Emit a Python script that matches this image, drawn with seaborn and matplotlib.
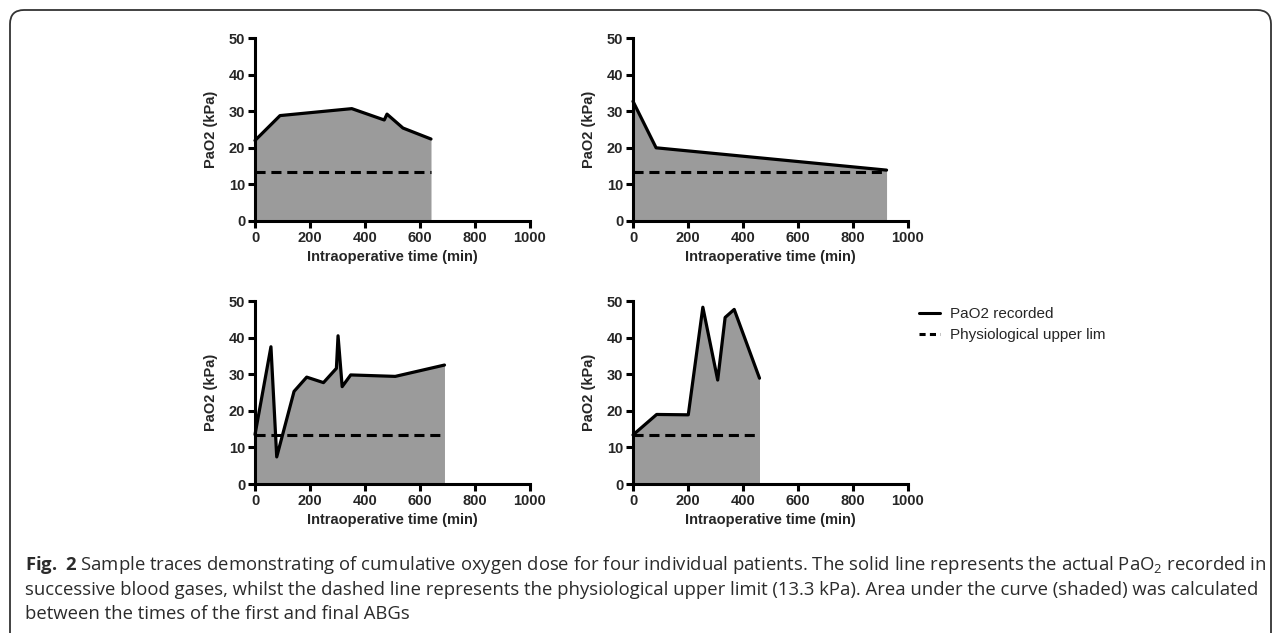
import matplotlib
matplotlib.use("Agg")
import matplotlib.pyplot as plt
from matplotlib.patches import FancyBboxPatch
from matplotlib.lines import Line2D
import seaborn as sns

# Values (time in min, PaO2 in kPa)
time_p1 = [0, 91, 352, 470, 480, 538, 640]
pao2_p1 = [22.0, 28.8, 30.7, 27.6, 29.2, 25.4, 22.4]

time_p2 = [0, 84, 922]
pao2_p2 = [32.7, 20.0, 13.9]

time_p3 = [0, 58, 79, 142, 188, 249, 296, 302, 317, 348, 510, 689]
pao2_p3 = [13.5, 37.5, 7.4, 25.3, 29.2, 27.7, 31.6, 40.5, 26.6, 29.8, 29.4, 32.5]

time_p4 = [0, 86, 201, 254, 308, 335, 368, 460]
pao2_p4 = [13.4, 19.0, 18.9, 48.3, 28.4, 45.5, 47.7, 28.9]

upper_limit = 13.3
x_ticks = [0, 200, 400, 600, 800, 1000]
y_ticks = [0, 10, 20, 30, 40, 50]
legend_labels = ["PaO2 recorded", "Physiological upper lim"]

caption_lines = [
    r"$\mathbf{Fig.\ 2}$ Sample traces demonstrating of cumulative oxygen dose for four individual patients. "
    r"The solid line represents the actual PaO$_2$ recorded in",
    "successive blood gases, whilst the dashed line represents the physiological upper limit (13.3 kPa). "
    "Area under the curve (shaded) was calculated",
    "between the times of the first and final ABGs",
]

sns.set_style("ticks")
plt.rcParams["font.family"] = ["Liberation Sans", "DejaVu Sans"]
plt.rcParams["mathtext.fontset"] = "custom"
plt.rcParams["mathtext.rm"] = "Open Sans"
plt.rcParams["mathtext.it"] = "Open Sans:italic"
plt.rcParams["mathtext.bf"] = "Open Sans:bold"

W, H = 1281, 633
fig = plt.figure(figsize=(W / 100, H / 100), dpi=100)

# background layer in pixel units for frame and caption
bg = fig.add_axes([0, 0, 1, 1], zorder=-1)
bg.set_xlim(0, W)
bg.set_ylim(H, 0)
bg.axis("off")
frame = FancyBboxPatch((10, 10), W - 20, H + 40,
                       boxstyle="round,pad=0,rounding_size=14",
                       fc="white", ec="#333333", lw=1.3)
bg.add_patch(frame)

caption_y = [565, 590, 614]
for i, line in enumerate(caption_lines):
    bg.text(25, caption_y[i], line, fontsize=13.3, family="Open Sans",
            color="#2b2b2b", va="center", ha="left")

# panel boxes in pixels: (left, top)
panels = [
    (255, 38, time_p1, pao2_p1),
    (633, 38, time_p2, pao2_p2),
    (255, 301, time_p3, pao2_p3),
    (633, 301, time_p4, pao2_p4),
]
pw, ph = 275, 183

for left, top, t, v in panels:
    ax = fig.add_axes([left / W, 1 - (top + ph) / H, pw / W, ph / H])
    ax.fill_between(t, 0, v, color="#9b9b9b", lw=0, zorder=1)
    sns.lineplot(x=t, y=v, ax=ax, color="black", lw=2.3, zorder=3,
                 estimator=None, sort=False)
    sns.lineplot(x=[t[0], t[-1]], y=[upper_limit, upper_limit], ax=ax,
                 color="black", lw=2.2, linestyle=(0, (3.3, 1.9)), zorder=2)
    ax.set_xlim(0, 1000)
    ax.set_ylim(0, 50)
    ax.set_xticks(x_ticks)
    ax.set_yticks(y_ticks)
    ax.set_xlabel("Intraoperative time (min)", fontsize=10.5, fontweight="bold", labelpad=4)
    ax.set_ylabel("PaO2 (kPa)", fontsize=10.5, fontweight="bold", labelpad=8)
    for lab in ax.get_xticklabels() + ax.get_yticklabels():
        lab.set_fontweight("bold")
    ax.tick_params(width=2.2, length=5, labelsize=10.5, pad=2, color="black")
    sns.despine(ax=ax)
    for s in ["left", "bottom"]:
        ax.spines[s].set_linewidth(2.2)
        ax.spines[s].set_color("black")
    for ln in ax.lines:
        ln.set_clip_on(False)

handles = [Line2D([], [], color="black", lw=2.2),
           Line2D([], [], color="black", lw=2.2, linestyle=(0, (2.0, 1.4)))]
fig.legend(handles, legend_labels, loc="center left",
           bbox_to_anchor=(919 / W, 1 - 324.5 / H), frameon=False,
           fontsize=11, handlelength=1.4, handletextpad=0.6,
           borderpad=0, borderaxespad=0, labelspacing=0.45)

fig.savefig("out.png", dpi=100)
